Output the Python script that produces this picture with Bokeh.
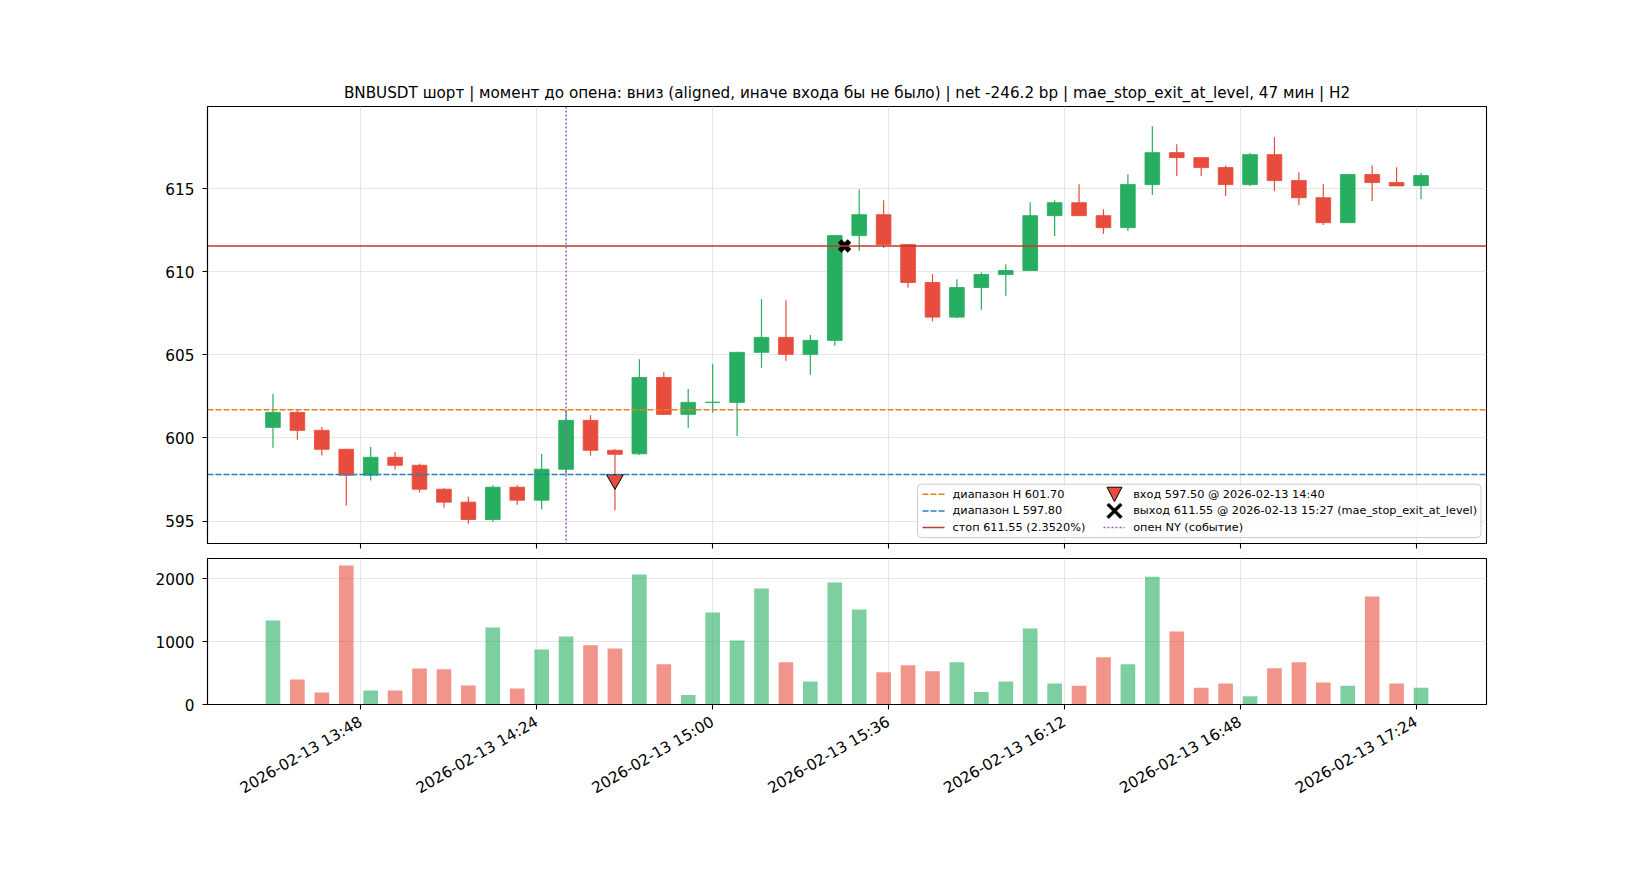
import math
import pandas as pd
from bokeh.plotting import figure
from bokeh.layouts import column
from bokeh.models import (ColumnDataSource, Span, FixedTicker, DatetimeTickFormatter,
                          Range1d, BoxAnnotation, PolyAnnotation, Label, Arrow,
                          CustomLabelingPolicy)
from bokeh.embed import file_html
from bokeh.resources import INLINE

# ---------------- data ----------------
start_time = "2026-02-13 13:30"
n_bars = 48
bar_minutes = 5

opens = [600.64, 601.54, 600.46, 599.32, 597.76, 598.84, 598.36, 596.92, 596.14, 595.10,
         597.04, 596.26, 598.12, 601.06, 599.26, 599.05, 603.64, 601.42, 602.14, 602.14,
         605.15, 606.05, 605.03, 605.87, 612.17, 613.43, 611.63, 609.35, 607.27, 609.05,
         609.83, 610.07, 613.37, 614.15, 613.37, 612.65, 615.24, 617.16, 616.86, 616.26,
         615.24, 617.04, 615.48, 614.45, 612.95, 615.84, 615.36, 615.18]
highs = [602.64, 601.68, 600.66, 599.36, 599.46, 599.16, 598.46, 596.98, 596.46, 597.16,
         597.16, 599.04, 601.68, 601.38, 599.32, 604.74, 603.96, 602.94, 604.44, 605.18,
         608.35, 608.29, 606.19, 612.20, 614.95, 614.29, 611.65, 609.85, 609.55, 609.97,
         610.45, 614.17, 614.29, 615.26, 613.75, 615.86, 618.74, 617.66, 616.86, 616.38,
         617.16, 618.08, 615.98, 615.26, 615.84, 616.40, 616.28, 615.93]
lows = [599.42, 599.90, 598.94, 595.93, 597.44, 598.10, 596.72, 595.81, 594.85, 594.95,
        595.99, 595.70, 597.80, 598.94, 595.65, 598.98, 601.40, 600.62, 601.52, 600.12,
        604.22, 604.64, 603.80, 605.55, 611.25, 611.43, 609.03, 607.02, 607.20, 607.71,
        608.55, 610.07, 612.15, 613.37, 612.26, 612.45, 614.61, 615.76, 615.76, 614.55,
        615.16, 614.85, 614.01, 612.81, 612.95, 614.25, 615.16, 614.35]
closes = [601.54, 600.46, 599.32, 597.76, 598.84, 598.36, 596.92, 596.14, 595.10, 597.04,
          596.26, 598.12, 601.06, 599.26, 599.02, 603.64, 601.42, 602.14, 602.15, 605.15,
          606.05, 605.03, 605.87, 612.17, 613.43, 611.63, 609.35, 607.27, 609.05, 609.83,
          610.07, 613.37, 614.15, 613.37, 612.65, 615.24, 617.16, 616.86, 616.26, 615.24,
          617.04, 615.48, 614.45, 612.95, 615.84, 615.36, 615.16, 615.78]
volumes = [1340, 400, 190, 2215, 225, 225, 575, 560, 303, 1228,
           255, 878, 1085, 942, 894, 2069, 640, 150, 1466, 1021,
           1847, 672, 367, 1942, 1513, 513, 624, 529, 672, 200,
           367, 1212, 333, 300, 751, 640, 2037, 1164, 267, 333,
           133, 577, 672, 350, 300, 1720, 333, 267]

range_high = 601.70
range_low = 597.80
stop_level = 611.55
stop_pct = "2.3520%"
entry_time = "2026-02-13 14:40"
entry_price = 597.50
exit_time = "2026-02-13 15:27"
exit_price = 611.55
exit_reason = "mae_stop_exit_at_level"
ny_open_time = "2026-02-13 14:30"

tick_times = ["2026-02-13 13:48", "2026-02-13 14:24", "2026-02-13 15:00",
              "2026-02-13 15:36", "2026-02-13 16:12", "2026-02-13 16:48",
              "2026-02-13 17:24"]
price_ticks = [595, 600, 605, 610, 615]
volume_ticks = [0, 1000, 2000]

title_text = ("BNBUSDT шорт | момент до опена: вниз (aligned, иначе входа бы не было) | "
              "net -246.2 bp | mae_stop_exit_at_level, 47 мин | H2")

# ---------------- styles ----------------
GREEN = "#27ae60"
RED = "#e74c3c"
STOP = "#c0392b"
ORANGE = "#e67e22"
BLUE = "#2980b9"
PURPLE = "#9b59b6"
FONT = "DejaVu Sans"
GRID = "#e6e6e6"
DASH = "6 2"
DOT = "2 2"
TICK_FS = "15.3px"
TITLE_FS = "15.2px"
LEG_FS = "11.3px"


def ms(ts):
    return pd.Timestamp(ts).value / 1e6


times = pd.date_range(start_time, periods=n_bars, freq=f"{bar_minutes}min")
t_ms = [ts.value / 1e6 for ts in times]
bar_w = 0.6 * bar_minutes * 60 * 1000
colors = [GREEN if c >= o else RED for o, c in zip(opens, closes)]

src = ColumnDataSource(dict(
    t=t_ms, open=opens, high=highs, low=lows, close=closes,
    top=[max(o, c) for o, c in zip(opens, closes)],
    bottom=[min(o, c) for o, c in zip(opens, closes)],
    color=colors, volume=volumes,
))

# ranges (matplotlib-like 5% margins)
x_lo = t_ms[0] - bar_w / 2
x_hi = t_ms[-1] + bar_w / 2
x_pad = 0.05 * (x_hi - x_lo)
x_range = Range1d(x_lo - x_pad, x_hi + x_pad)
y_lo, y_hi = min(lows), max(highs)
y_pad = 0.05 * (y_hi - y_lo)
price_range = Range1d(y_lo - y_pad, y_hi + y_pad)
vol_range = Range1d(0, max(volumes) * 1.05)

tick_ms = [ms(t) for t in tick_times]
fmt = "%Y-%m-%d %H:%M"
dt_fmt = DatetimeTickFormatter(microseconds=fmt, milliseconds=fmt, seconds=fmt,
                               minsec=fmt, minutes=fmt, hourmin=fmt, hours=fmt,
                               days=fmt, months=fmt, years=fmt)
dt_fmt.context = None

FRAME_W = 1279
LEFT = 207
RIGHT = 150


def style(p):
    p.outline_line_color = "black"
    p.outline_line_width = 1.1
    p.outline_line_alpha = 1
    for ax in p.axis:
        ax.axis_line_color = "black"
        ax.axis_line_width = 1.1
        ax.major_tick_line_color = "black"
        ax.major_tick_line_width = 1.1
        ax.major_tick_out = 5
        ax.major_tick_in = 0
        ax.minor_tick_line_color = None
        ax.major_label_text_font = FONT
        ax.major_label_text_font_size = TICK_FS
        ax.major_label_text_color = "black"
        ax.major_label_standoff = 5
    for g in p.grid:
        g.grid_line_color = GRID
        g.grid_line_width = 1
    p.background_fill_color = "white"
    p.border_fill_color = "white"


# ---------------- price figure ----------------
p1 = figure(x_axis_type="datetime", x_range=x_range, y_range=price_range,
            frame_width=FRAME_W, frame_height=437,
            min_border_left=LEFT, min_border_right=RIGHT,
            min_border_top=106, min_border_bottom=8,
            toolbar_location=None, output_backend="svg")
p1.title.text = title_text
p1.title.align = "center"
p1.title.text_font = FONT
p1.title.text_font_size = TITLE_FS
p1.title.text_font_style = "normal"
p1.title.text_color = "black"
p1.title.standoff = 9

p1.xaxis.ticker = FixedTicker(ticks=tick_ms)
p1.xgrid.ticker = FixedTicker(ticks=tick_ms)
p1.yaxis.ticker = FixedTicker(ticks=price_ticks)
p1.ygrid.ticker = FixedTicker(ticks=price_ticks)
style(p1)
p1.xaxis.major_label_standoff = 0
p1.xaxis.major_label_text_font_size = "0px"
p1.xaxis.major_label_policy = CustomLabelingPolicy(code="""
try {
  for (const i of Array.from(indices)) indices.unset(i)
} catch (e) {}
return indices
""")
p1.yaxis.major_label_standoff = 8

p1.segment(x0="t", y0="high", x1="t", y1="low", source=src,
           line_color="color", line_width=1.2)
p1.vbar(x="t", width=bar_w, top="top", bottom="bottom", source=src,
        fill_color="color", line_color="color", line_width=1, line_alpha=0.85)

span_h = Span(location=range_high, dimension="width", line_color=ORANGE,
              line_dash=DASH, line_width=1.5)
span_l = Span(location=range_low, dimension="width", line_color=BLUE,
              line_dash=DASH, line_width=1.5)
span_s = Span(location=stop_level, dimension="width", line_color=STOP,
              line_width=1.6)
span_ny = Span(location=ms(ny_open_time), dimension="height", line_color=PURPLE,
               line_dash=DOT, line_width=1.5, line_alpha=1)
for s in (span_h, span_l, span_s, span_ny):
    p1.add_layout(s)

p1.scatter(x=[ms(entry_time)], y=[entry_price], marker="inverted_triangle",
           size=17, fill_color=RED, line_color="black", line_width=1)
p1.scatter(x=[ms(exit_time)], y=[exit_price], marker="x",
           size=14, line_color="black", line_width=5)

# ---------------- legend (frame-relative screen units, y from bottom) ----------------
box_kw = dict(left=710, right=1273.5, bottom=6, top=59.3,
              left_units="screen", right_units="screen",
              top_units="screen", bottom_units="screen",
              fill_color="white", fill_alpha=0.8,
              line_color="#cccccc", line_width=1, line_alpha=1)
if "border_radius" in BoxAnnotation.properties():
    box_kw["border_radius"] = 4
p1.add_layout(BoxAnnotation(**box_kw))

row_y = [49.3, 32.6, 16.0]
col1_line = (715, 737)
col1_text = 745
col2_center = 907
col2_line = (896, 917)
col2_text = 925.7


def leg_line(y, x0, x1, color, dash, width):
    p1.add_layout(Arrow(x_start=x0, y_start=y, x_end=x1, y_end=y,
                        start_units="screen", end_units="screen", end=None,
                        line_color=color, line_dash=dash, line_width=width))


def leg_text(x, y, txt):
    p1.add_layout(Label(x=x, y=y, x_units="screen", y_units="screen", text=txt,
                        text_font=FONT, text_font_size=LEG_FS, text_color="black",
                        text_baseline="middle", text_align="left"))


leg_line(row_y[0], *col1_line, ORANGE, DASH, 1.5)
leg_text(col1_text, row_y[0], f"диапазон H {range_high:.2f}")
leg_line(row_y[1], *col1_line, BLUE, DASH, 1.5)
leg_text(col1_text, row_y[1], f"диапазон L {range_low:.2f}")
leg_line(row_y[2], *col1_line, STOP, "solid", 1.6)
leg_text(col1_text, row_y[2], f"стоп {stop_level:.2f} ({stop_pct})")

# entry triangle key
cx, cy = col2_center, row_y[0]
p1.add_layout(PolyAnnotation(xs=[cx - 7.5, cx + 7.5, cx], ys=[cy + 7, cy + 7, cy - 7.5],
                             xs_units="screen", ys_units="screen",
                             fill_color=RED, fill_alpha=1, line_color="black",
                             line_width=1, line_alpha=1))
leg_text(col2_text, row_y[0], f"вход {entry_price:.2f} @ {entry_time}")

# exit X key (filled X shape)
x_shape = [(0.25, 0), (1, 0.75), (0.75, 1), (0, 0.25), (-0.75, 1), (-1, 0.75),
           (-0.25, 0), (-1, -0.75), (-0.75, -1), (0, -0.25), (0.75, -1), (1, -0.75)]
cy = row_y[1]
p1.add_layout(PolyAnnotation(xs=[cx + 7.5 * a for a, b in x_shape],
                             ys=[cy + 7.5 * b for a, b in x_shape],
                             xs_units="screen", ys_units="screen",
                             fill_color="black", fill_alpha=1, line_color="black",
                             line_width=1, line_alpha=1))
leg_text(col2_text, row_y[1], f"выход {exit_price:.2f} @ {exit_time} ({exit_reason})")

leg_line(row_y[2], *col2_line, PURPLE, DOT, 1.5)
leg_text(col2_text, row_y[2], "опен NY (событие)")

# ---------------- volume figure ----------------
p2 = figure(x_axis_type="datetime", x_range=x_range, y_range=vol_range,
            frame_width=FRAME_W, frame_height=146,
            min_border_left=LEFT, min_border_right=RIGHT,
            min_border_top=7, min_border_bottom=150,
            toolbar_location=None, output_backend="svg")
p2.vbar(x="t", width=bar_w, top="volume", bottom=0, source=src,
        fill_color="color", fill_alpha=0.6, line_color=None)
p2.xaxis.ticker = FixedTicker(ticks=tick_ms)
p2.xgrid.ticker = FixedTicker(ticks=tick_ms)
p2.xaxis.formatter = dt_fmt
p2.yaxis.ticker = FixedTicker(ticks=volume_ticks)
p2.ygrid.ticker = FixedTicker(ticks=volume_ticks)
style(p2)
p2.xaxis.major_label_orientation = math.pi / 6
p2.xaxis.major_label_standoff = 11
p2.yaxis.major_label_standoff = 8

layout = column(p1, p2, spacing=0)
open("out.html", "w").write(file_html(layout, INLINE))
